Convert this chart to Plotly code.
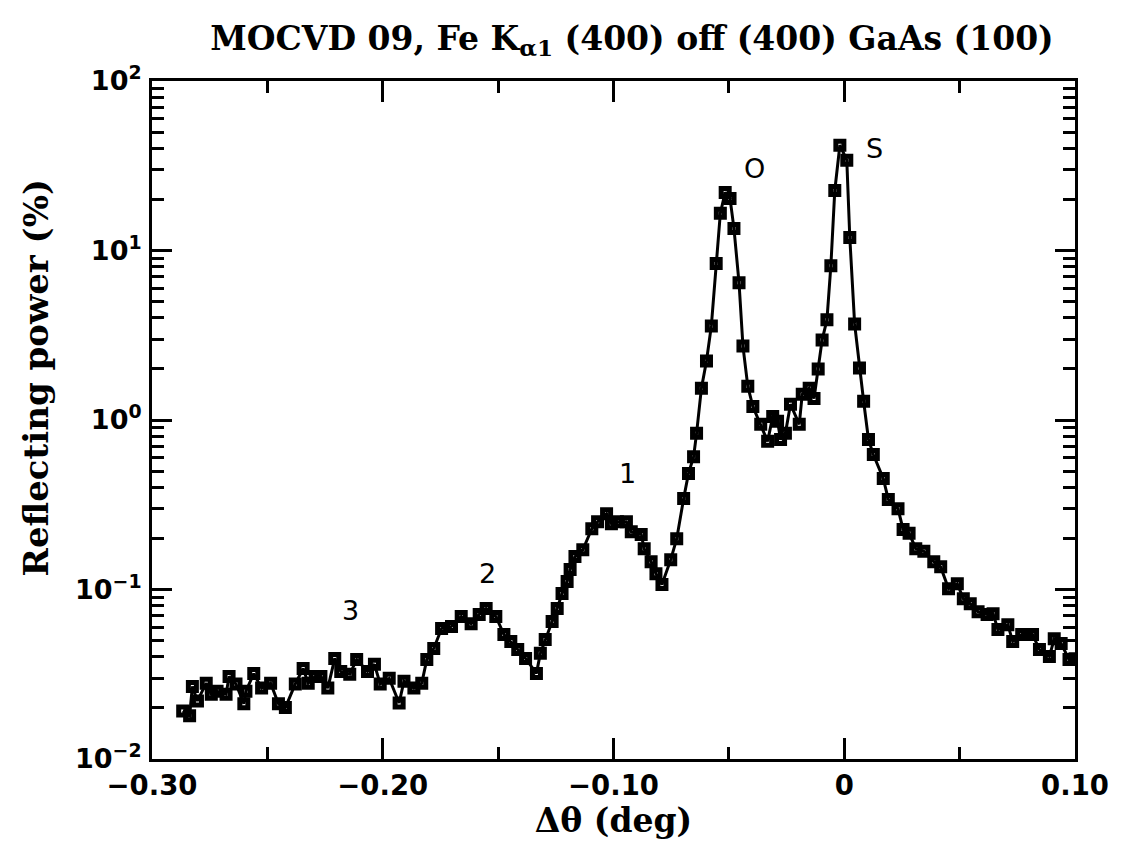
import math
import plotly.graph_objects as go

# Data
delta_theta = [
    -0.2867, -0.2837, -0.2825, -0.2803, -0.2765, -0.2743, -0.2718, -0.2679, -0.2666, -0.2636,
    -0.2602, -0.2593, -0.2559, -0.2525, -0.2486, -0.2452, -0.2422, -0.2379, -0.2345, -0.2323,
    -0.2293, -0.2268, -0.2238, -0.2208, -0.2182, -0.2143, -0.2113, -0.2066, -0.2036, -0.2011,
    -0.1972, -0.1929, -0.1908, -0.1865, -0.1831, -0.1809, -0.1779, -0.1745, -0.1702,
    -0.1660, -0.1617, -0.1582, -0.1552, -0.1510, -0.1475, -0.1445, -0.1415, -0.1381, -0.1334,
    -0.1317, -0.1296, -0.1266, -0.1244, -0.1223, -0.1201, -0.1188, -0.1167, -0.1133, -0.1094,
    -0.1069, -0.1030, -0.1009, -0.0983, -0.0944, -0.0923, -0.0880, -0.0867, -0.0837, -0.0816,
    -0.0790, -0.0752, -0.0726, -0.0696, -0.0675, -0.0653,
    -0.0640, -0.0619, -0.0597, -0.0576, -0.0555, -0.0537, -0.0516, -0.0495, -0.0478, -0.0456,
    -0.0439, -0.0418, -0.0396, -0.0362, -0.0332, -0.0310, -0.0289, -0.0276, -0.0255, -0.0233,
    -0.0195, -0.0182, -0.0152, -0.0131, -0.0113, -0.0096, -0.0075, -0.0058, -0.0041, -0.0019,
    0.0011, 0.0024, 0.0045, 0.0066, 0.0084, 0.0105, 0.0126,
    0.0169, 0.0191, 0.0233, 0.0255, 0.0281, 0.0310, 0.0345, 0.0388, 0.0418, 0.0452,
    0.0490, 0.0516, 0.0546, 0.0580, 0.0619, 0.0645, 0.0666, 0.0709, 0.0730, 0.0769,
    0.0816, 0.0846, 0.0889, 0.0910, 0.0940, 0.0974, 0.1000,
]
reflecting_power = [
    0.0192, 0.0180, 0.0268, 0.0220, 0.0280, 0.0241, 0.0251, 0.0241, 0.0307, 0.0277,
    0.0212, 0.0251, 0.0319, 0.0262, 0.0280, 0.0212, 0.0201, 0.0277, 0.0342, 0.0280,
    0.0307, 0.0307, 0.0262, 0.0392, 0.0328, 0.0316, 0.0387, 0.0328, 0.0362, 0.0277,
    0.0299, 0.0214, 0.0288, 0.0262, 0.0280, 0.0387, 0.0449, 0.0589, 0.0605,
    0.0693, 0.0629, 0.0713, 0.0772, 0.0693, 0.0543, 0.0493, 0.0442, 0.0392, 0.0320,
    0.0420, 0.0507, 0.0647, 0.0772, 0.0946, 0.1114, 0.1310, 0.1563, 0.1716, 0.2285,
    0.2512, 0.2800, 0.2446, 0.2512, 0.2512, 0.2195, 0.2110, 0.1741, 0.1459, 0.1240,
    0.1069, 0.1500, 0.1995, 0.3440, 0.4840, 0.6060,
    0.834, 1.541, 2.23, 3.59, 8.37, 16.6, 22.0, 20.3, 13.5, 6.45,
    2.73, 1.58, 1.20, 0.943, 0.748, 1.05, 0.983, 0.768, 0.834, 1.24,
    0.943, 1.42, 1.541, 1.34, 2.00, 2.96, 3.90, 8.14, 22.6, 41.8,
    34.1, 11.95, 3.69, 2.03, 1.29, 0.768, 0.626,
    0.452, 0.340, 0.300, 0.226, 0.215, 0.1741, 0.1680, 0.1459, 0.1360, 0.1010,
    0.1083, 0.0882, 0.0825, 0.0740, 0.0713, 0.0720, 0.0580, 0.0620, 0.0493, 0.0543,
    0.0543, 0.0442, 0.0402, 0.0512, 0.0480, 0.0387, 0.0390,
]

peak_labels = ["3", "2", "1", "O", "S"]
peak_label_x = [-0.2139, -0.1544, -0.0940, -0.0388, 0.0131]
peak_label_y = [0.0753, 0.1245, 0.484, 30.6, 40.2]

x_tickvals = [-0.30, -0.20, -0.10, 0.0, 0.10]
x_ticktext = ["\u22120.30", "\u22120.20", "\u22120.10", "0", "0.10"]
y_tickvals = [0.01, 0.1, 1, 10, 100]
y_ticktext = ["10<sup>\u22122</sup>", "10<sup>\u22121</sup>", "10<sup>0</sup>",
              "10<sup>1</sup>", "10<sup>2</sup>"]

serif = "DejaVu Serif"
sans = "DejaVu Sans"

# figure geometry (page body adds an 8px offset; size chosen so the page fits the window)
W, H = 1113, 838
ML, MR, MT, MB = 144, 35, 73, 87
PW, PH = W - ML - MR, H - MT - MB
OFF = 8


def paper_x(px):
    return (px - OFF - ML) / PW


def paper_y(py):
    return 1 - (py - OFF - MT) / PH


fig = go.Figure()
fig.add_trace(go.Scatter(
    x=delta_theta, y=reflecting_power, mode="lines+markers",
    line=dict(color="black", width=3),
    marker=dict(symbol="square-open", size=8, color="black", line=dict(width=5, color="black")),
    showlegend=False,
))

for t, xx, yy in zip(peak_labels, peak_label_x, peak_label_y):
    fig.add_annotation(x=xx, y=math.log10(yy), text=t, showarrow=False,
                       font=dict(family=sans, size=27, color="black"))

fig.add_annotation(xref="paper", yref="paper", x=paper_x(35), y=paper_y(378),
                   text="Reflecting power (%)", textangle=-90, showarrow=False,
                   xanchor="center", yanchor="middle",
                   font=dict(family=serif, size=34, color="black", weight="bold"))

fig.update_layout(
    width=W, height=H,
    margin=dict(l=ML, r=MR, t=MT, b=MB),
    paper_bgcolor="white", plot_bgcolor="white",
    title=dict(text="MOCVD 09, Fe K<sub>\u03b11</sub> (400) off (400) GaAs (100)",
               x=(632 - OFF) / W, xanchor="center", y=1 - (38 - OFF) / H, yanchor="middle",
               font=dict(family=serif, size=33, color="black", weight="bold")),
    xaxis=dict(
        range=[-0.30, 0.10], tickvals=x_tickvals, ticktext=x_ticktext,
        ticks="inside", ticklen=21, tickwidth=2.5, tickcolor="black",
        minor=dict(dtick=0.05, tick0=0, ticks="inside", ticklen=12, tickwidth=2.5,
                   tickcolor="black", showgrid=False),
        showline=True, linecolor="black", linewidth=3, mirror="allticks",
        showgrid=False, zeroline=False, ticklabelstandoff=0,
        tickfont=dict(family=sans, size=27.5, color="black", weight="bold"),
        title=dict(text="\u0394\u03b8 (deg)", standoff=4,
                   font=dict(family=serif, size=33, color="black", weight="bold")),
    ),
    yaxis=dict(
        type="log", range=[-2, 2], tickvals=y_tickvals, ticktext=y_ticktext,
        ticks="inside", ticklen=20, tickwidth=2.5, tickcolor="black",
        minor=dict(dtick="D1", ticks="inside", ticklen=12, tickwidth=2.5,
                   tickcolor="black", showgrid=False),
        showline=True, linecolor="black", linewidth=3, mirror="allticks",
        showgrid=False, zeroline=False, ticklabelstandoff=2,
        tickfont=dict(family=sans, size=27, color="black", weight="bold"),
    ),
)

fig.write_html("out.html")
